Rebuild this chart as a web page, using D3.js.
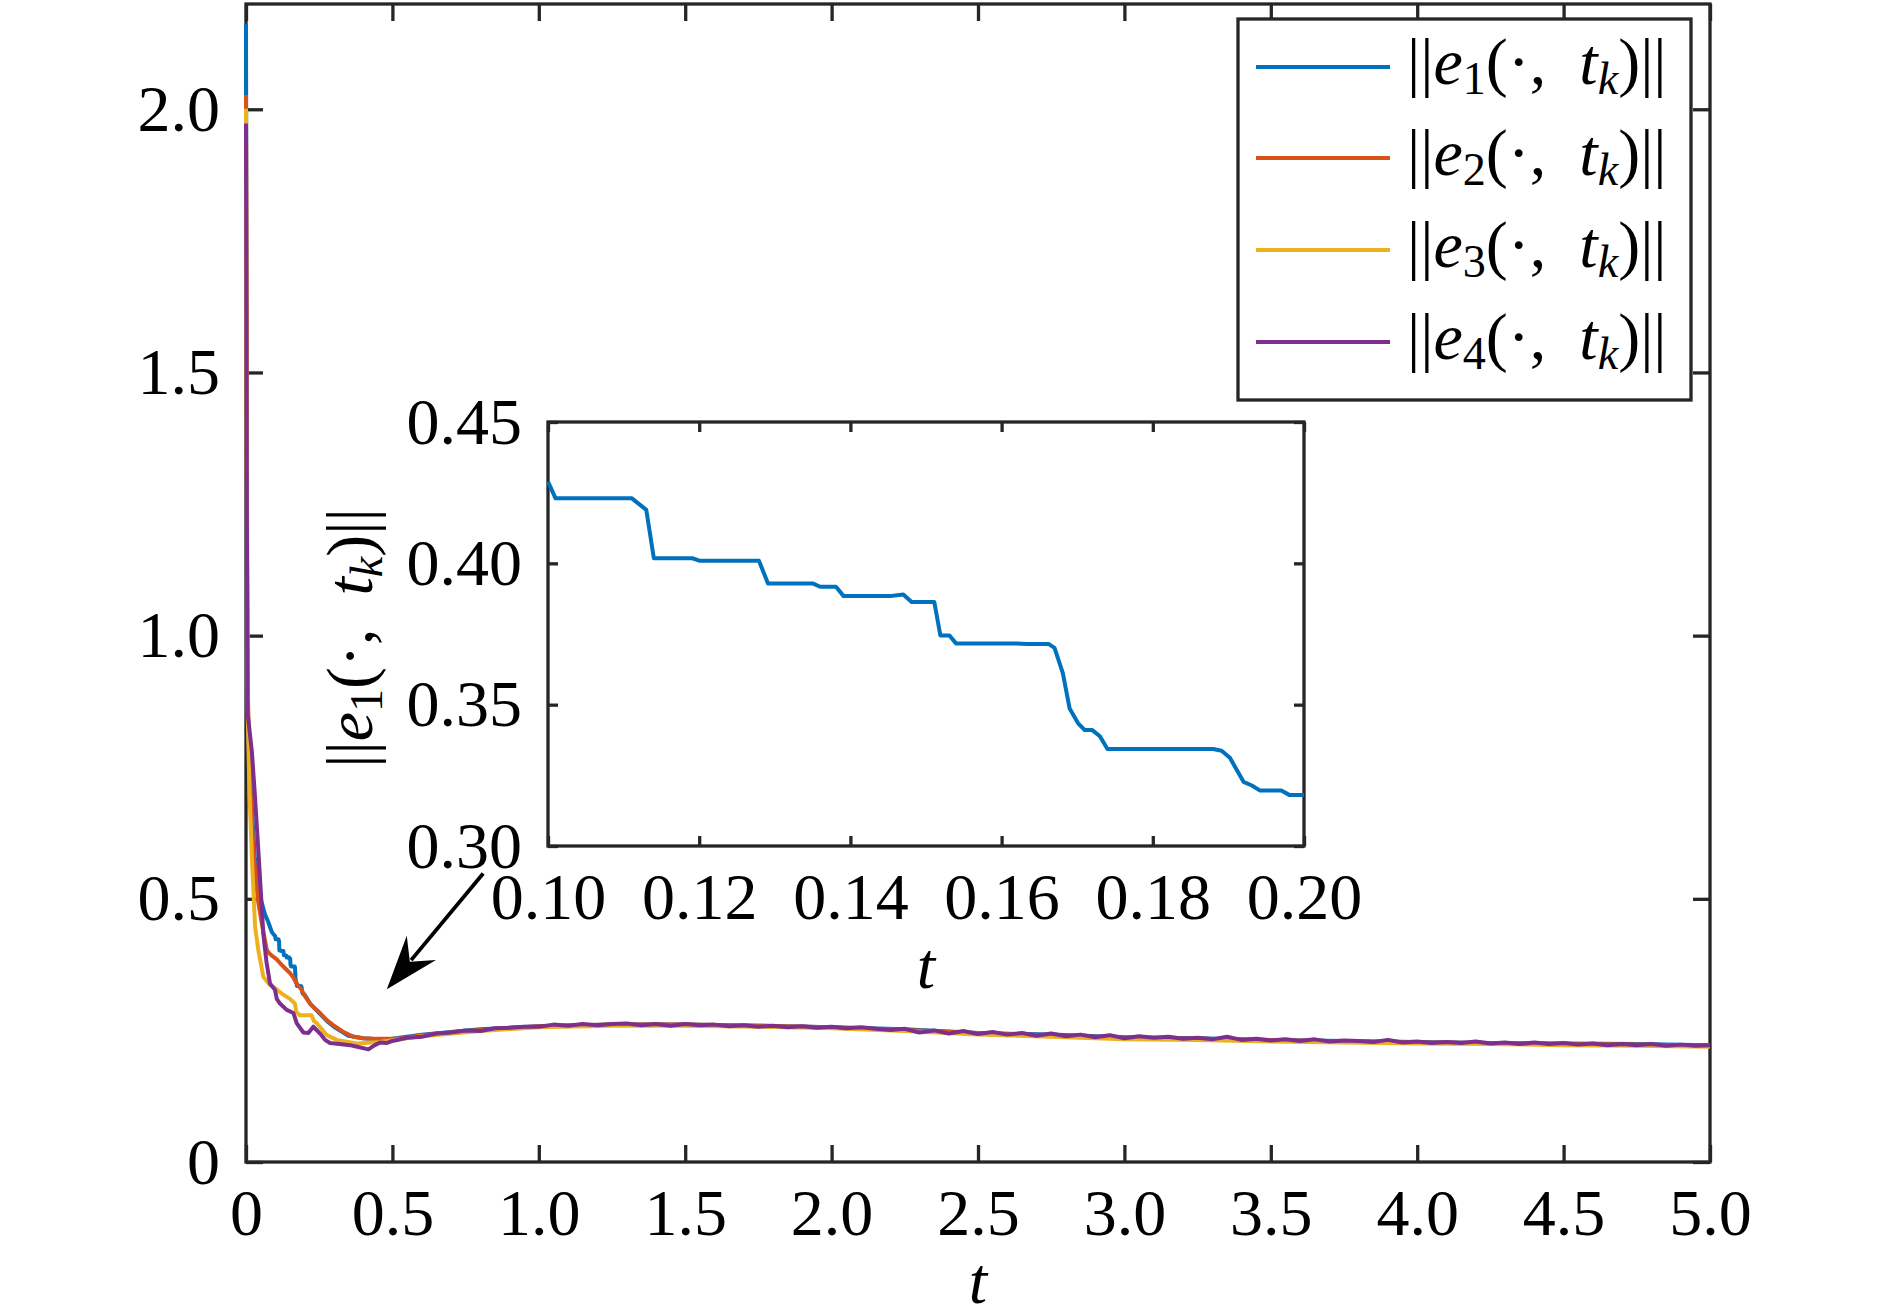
<!DOCTYPE html>
<html>
<head>
<meta charset="utf-8">
<script src="https://cdn.jsdelivr.net/npm/d3@7"></script>
<style>
  body { margin: 0; background: #fff; }
  svg { display: block; }
  text { font-family: "Liberation Serif", "DejaVu Serif", serif; fill: #000; }
</style>
</head>
<body>
<div id="chart-area"></div>
<script>
// ---- data ----
const seriesNames = ["1", "2", "3", "4"];
const seriesColors = ["#0072BD", "#D95319", "#EDB120", "#7E2F8E"];

const xTicks = [0, 0.5, 1.0, 1.5, 2.0, 2.5, 3.0, 3.5, 4.0, 4.5, 5.0];
const yTicks = [0, 0.5, 1.0, 1.5, 2.0];
const insetXTicks = [0.10, 0.12, 0.14, 0.16, 0.18, 0.20];
const insetYTicks = [0.30, 0.35, 0.40, 0.45];

// e1 : [t, value]
const e1Points = [
  [0, 2.163], [0.003, 1.2], [0.006, 0.83], [0.015, 0.72], [0.03, 0.58], [0.05, 0.50],
  [0.065, 0.47], [0.076, 0.456], [0.088, 0.437], [0.095, 0.432],
  [0.100, 0.4289], [0.101, 0.4230], [0.1111, 0.4230], [0.1130, 0.4189], [0.1140, 0.4018],
  [0.1191, 0.4018], [0.1201, 0.4009], [0.1279, 0.4009], [0.1291, 0.3929], [0.1350, 0.3929],
  [0.1360, 0.3917], [0.1381, 0.3917], [0.1391, 0.3884], [0.1452, 0.3884], [0.1470, 0.3890],
  [0.1481, 0.3863], [0.1511, 0.3863], [0.1519, 0.3745], [0.1531, 0.3745], [0.1540, 0.3716],
  [0.1620, 0.3716], [0.1633, 0.3715], [0.1662, 0.3715], [0.1670, 0.3701], [0.1681, 0.3612],
  [0.1690, 0.3486], [0.1701, 0.3435], [0.1710, 0.3410], [0.1720, 0.3410], [0.1730, 0.3388],
  [0.1740, 0.3343], [0.1880, 0.3343], [0.1891, 0.3337], [0.1902, 0.3312], [0.1920, 0.3227],
  [0.1931, 0.3214], [0.1942, 0.3196], [0.1970, 0.3196], [0.1981, 0.3180], [0.2000, 0.3180],
  [0.22, 0.300], [0.25, 0.283], [0.28, 0.266], [0.30, 0.257], [0.35, 0.240], [0.40, 0.235],
  [0.45, 0.233], [0.50, 0.234],
  [0.6, 0.242], [0.8, 0.252], [1.0, 0.258], [1.25, 0.261], [1.5, 0.261], [1.75, 0.259],
  [2.0, 0.256], [2.25, 0.252], [2.5, 0.245], [2.75, 0.242], [3.0, 0.237], [3.25, 0.235],
  [3.5, 0.232], [3.75, 0.230], [4.0, 0.228], [4.25, 0.226], [4.5, 0.225], [4.75, 0.224], [5.0, 0.222]
];

const e2Points = [
  [0, 2.027], [0.003, 1.3], [0.006, 0.9], [0.012, 0.75], [0.025, 0.593], [0.04, 0.50],
  [0.055, 0.45], [0.071, 0.403], [0.08, 0.396], [0.093, 0.390], [0.105, 0.385], [0.116, 0.378],
  [0.13, 0.370], [0.15, 0.359], [0.16, 0.352], [0.173, 0.339], [0.19, 0.327], [0.20, 0.316],
  [0.219, 0.301], [0.235, 0.292], [0.253, 0.283], [0.275, 0.270], [0.298, 0.260], [0.33, 0.248],
  [0.367, 0.238], [0.40, 0.235], [0.435, 0.234], [0.515, 0.234], [0.55, 0.236],
  [0.6, 0.241], [0.8, 0.251], [1.0, 0.258], [1.25, 0.261], [1.5, 0.261], [1.75, 0.259],
  [2.0, 0.256], [2.25, 0.251], [2.5, 0.245], [2.75, 0.241], [3.0, 0.236], [3.25, 0.234],
  [3.5, 0.232], [3.75, 0.229], [4.0, 0.227], [4.25, 0.226], [4.5, 0.224], [4.75, 0.223], [5.0, 0.221]
];

const e3Points = [
  [0, 2.001], [0.003, 1.2], [0.006, 0.85], [0.012, 0.70], [0.02, 0.58], [0.031, 0.447],
  [0.042, 0.403], [0.059, 0.352], [0.082, 0.336], [0.10, 0.330], [0.122, 0.320], [0.15, 0.310],
  [0.167, 0.301], [0.172, 0.285], [0.184, 0.279], [0.224, 0.279], [0.232, 0.268], [0.241, 0.264],
  [0.276, 0.241], [0.31, 0.232], [0.378, 0.225], [0.458, 0.228], [0.549, 0.235],
  [0.6, 0.239], [0.8, 0.249], [1.0, 0.256], [1.25, 0.259], [1.5, 0.259], [1.75, 0.257],
  [2.0, 0.254], [2.25, 0.249], [2.5, 0.242], [2.75, 0.238], [3.0, 0.233], [3.25, 0.232],
  [3.5, 0.229], [3.75, 0.227], [4.0, 0.225], [4.25, 0.224], [4.5, 0.222], [4.75, 0.221], [5.0, 0.219]
];

const e4Points = [
  [0, 1.973], [0.002, 1.5], [0.004, 1.0], [0.006, 0.85], [0.02, 0.78], [0.03, 0.70],
  [0.042, 0.593], [0.05, 0.52], [0.059, 0.434], [0.07, 0.38], [0.082, 0.339], [0.099, 0.327],
  [0.105, 0.310], [0.116, 0.301], [0.139, 0.289], [0.162, 0.283], [0.173, 0.264], [0.196, 0.246],
  [0.213, 0.245], [0.23, 0.257], [0.253, 0.244], [0.27, 0.232], [0.287, 0.226], [0.32, 0.224],
  [0.355, 0.222], [0.38, 0.219], [0.418, 0.214], [0.44, 0.222], [0.458, 0.227], [0.48, 0.226],
  [0.50, 0.230], [0.55, 0.236], [0.60, 0.238], [0.65, 0.244], [0.70, 0.246], [0.75, 0.250],
  [0.80, 0.249], [0.85, 0.254], [0.90, 0.255], [0.95, 0.257], [1.00, 0.257], [1.05, 0.261],
  [1.10, 0.259], [1.15, 0.262], [1.20, 0.260], [1.25, 0.262], [1.30, 0.263], [1.35, 0.260],
  [1.40, 0.262], [1.45, 0.259], [1.50, 0.262], [1.55, 0.260], [1.60, 0.261], [1.65, 0.258],
  [1.70, 0.260], [1.75, 0.257], [1.80, 0.259], [1.85, 0.256], [1.90, 0.258], [1.95, 0.255],
  [2.00, 0.257], [2.05, 0.254], [2.10, 0.256], [2.15, 0.253], [2.20, 0.251], [2.25, 0.253],
  [2.30, 0.246], [2.35, 0.250], [2.40, 0.244], [2.45, 0.249], [2.50, 0.243], [2.55, 0.247],
  [2.60, 0.242], [2.65, 0.245], [2.70, 0.240], [2.75, 0.244], [2.80, 0.239], [2.85, 0.242],
  [2.90, 0.237], [2.95, 0.241], [3.00, 0.235], [3.05, 0.239], [3.10, 0.236], [3.15, 0.238],
  [3.20, 0.234], [3.25, 0.236], [3.30, 0.233], [3.35, 0.238], [3.40, 0.232], [3.45, 0.234],
  [3.50, 0.231], [3.55, 0.233], [3.60, 0.230], [3.65, 0.233], [3.70, 0.229], [3.75, 0.231],
  [3.80, 0.230], [3.85, 0.228], [3.90, 0.232], [3.95, 0.227], [4.00, 0.229], [4.05, 0.226],
  [4.10, 0.228], [4.15, 0.226], [4.20, 0.229], [4.25, 0.225], [4.30, 0.227], [4.35, 0.224],
  [4.40, 0.227], [4.45, 0.224], [4.50, 0.226], [4.55, 0.223], [4.60, 0.225], [4.65, 0.222],
  [4.70, 0.224], [4.75, 0.222], [4.80, 0.224], [4.85, 0.221], [4.90, 0.223], [4.95, 0.221],
  [5.00, 0.222]
];

// arrow pointing at the zoomed region, in main-axis data units [t, value]
const arrowFrom = [0.81, 0.548];
const arrowTo = [0.481, 0.328];

// ---- layout ----
const W = 1890, H = 1316;
const main = { left: 246, right: 1710, top: 4, bottom: 1162 };
const inset = { left: 548, right: 1304, top: 422, bottom: 846 };
const fontSize = 66;
const axisColor = "#262626";
const axisWidth = 3.3;
const dataWidth = 4;

const svg = d3.select("#chart-area").append("svg")
  .attr("width", W).attr("height", H);
svg.append("rect").attr("width", W).attr("height", H).attr("fill", "#fff");

const x = d3.scaleLinear().domain([0, 5]).range([main.left, main.right]);
const y = d3.scaleLinear().domain([0, 2.2]).range([main.bottom, main.top]);

function styleAxis(g) {
  g.select(".domain").remove();
  g.selectAll(".tick line").attr("stroke", axisColor).attr("stroke-width", axisWidth);
  g.selectAll(".tick text").attr("font-size", fontSize).attr("font-family", "Liberation Serif").attr("fill", "#000");
}

// main axes
const fmtMain = d => d === 0 ? "0" : d.toFixed(1);
svg.append("g").attr("transform", `translate(0,${main.bottom})`)
  .call(d3.axisBottom(x).tickValues(xTicks).tickFormat(fmtMain).tickSizeInner(-17).tickSizeOuter(0).tickPadding(26))
  .call(styleAxis);
svg.append("g").attr("transform", `translate(0,${main.top})`)
  .call(d3.axisTop(x).tickValues(xTicks).tickFormat("").tickSizeInner(-17).tickSizeOuter(0))
  .call(styleAxis);
svg.append("g").attr("transform", `translate(${main.left},0)`)
  .call(d3.axisLeft(y).tickValues(yTicks).tickFormat(fmtMain).tickSizeInner(-17).tickSizeOuter(0).tickPadding(26))
  .call(styleAxis);
svg.append("g").attr("transform", `translate(${main.right},0)`)
  .call(d3.axisRight(y).tickValues(yTicks).tickFormat("").tickSizeInner(-17).tickSizeOuter(0))
  .call(styleAxis);
svg.append("rect")
  .attr("x", main.left).attr("y", main.top)
  .attr("width", main.right - main.left).attr("height", main.bottom - main.top)
  .attr("fill", "none").attr("stroke", axisColor).attr("stroke-width", axisWidth);

svg.append("text")
  .attr("x", (main.left + main.right) / 2).attr("y", 1303)
  .attr("text-anchor", "middle").attr("font-size", fontSize).attr("font-style", "italic")
  .text("t");

// main curves
const line = d3.line().x(d => x(d[0])).y(d => y(d[1]));
const allSeries = [e1Points, e2Points, e3Points, e4Points];
svg.append("g").selectAll("path")
  .data(allSeries)
  .join("path")
  .attr("d", line)
  .attr("fill", "none")
  .attr("stroke", (d, i) => seriesColors[i])
  .attr("stroke-width", dataWidth)
  .attr("stroke-linejoin", "round");

// arrow
const ax0 = x(arrowFrom[0]), ay0 = y(arrowFrom[1]);
const ax1 = x(arrowTo[0]), ay1 = y(arrowTo[1]);
const ang = Math.atan2(ay1 - ay0, ax1 - ax0);
const headLen = 48, headHalf = 19;
const bx = ax1 - headLen * Math.cos(ang), by = ay1 - headLen * Math.sin(ang);
svg.append("line")
  .attr("x1", ax0).attr("y1", ay0).attr("x2", bx + 10 * Math.cos(ang)).attr("y2", by + 10 * Math.sin(ang))
  .attr("stroke", "#000").attr("stroke-width", 3.8);
svg.append("path")
  .attr("d", d3.line()([
    [ax1, ay1],
    [bx + headHalf * Math.sin(ang) - 6 * Math.cos(ang), by - headHalf * Math.cos(ang) - 6 * Math.sin(ang)],
    [bx + 12 * Math.cos(ang), by + 12 * Math.sin(ang)],
    [bx - headHalf * Math.sin(ang) - 6 * Math.cos(ang), by + headHalf * Math.cos(ang) - 6 * Math.sin(ang)]
  ]) + "Z")
  .attr("fill", "#000");

// label builder for ||e_i(., t_k)||
function normLabel(sel, sub) {
  sel.append("tspan").text("||");
  sel.append("tspan").attr("font-style", "italic").text("e");
  sel.append("tspan").attr("font-size", fontSize * 0.7).attr("dy", 10).text(sub);
  sel.append("tspan").attr("dy", -10).text("(\u00b7,\u00a0\u00a0");
  sel.append("tspan").attr("font-style", "italic").text("t");
  sel.append("tspan").attr("font-style", "italic").attr("font-size", fontSize * 0.7).attr("dy", 10).text("k");
  sel.append("tspan").attr("dy", -10).text(")||");
}

// inset
const xi = d3.scaleLinear().domain([0.10, 0.20]).range([inset.left, inset.right]);
const yi = d3.scaleLinear().domain([0.30, 0.45]).range([inset.bottom, inset.top]);
svg.append("rect")
  .attr("x", inset.left).attr("y", inset.top)
  .attr("width", inset.right - inset.left).attr("height", inset.bottom - inset.top)
  .attr("fill", "#fff");
const fmtInset = d => d.toFixed(2);
svg.append("g").attr("transform", `translate(0,${inset.bottom})`)
  .call(d3.axisBottom(xi).tickValues(insetXTicks).tickFormat(fmtInset).tickSizeInner(-10).tickSizeOuter(0).tickPadding(26))
  .call(styleAxis);
svg.append("g").attr("transform", `translate(0,${inset.top})`)
  .call(d3.axisTop(xi).tickValues(insetXTicks).tickFormat("").tickSizeInner(-10).tickSizeOuter(0))
  .call(styleAxis);
svg.append("g").attr("transform", `translate(${inset.left},0)`)
  .call(d3.axisLeft(yi).tickValues(insetYTicks).tickFormat(fmtInset).tickSizeInner(-10).tickSizeOuter(0).tickPadding(26))
  .call(styleAxis);
svg.append("g").attr("transform", `translate(${inset.right},0)`)
  .call(d3.axisRight(yi).tickValues(insetYTicks).tickFormat("").tickSizeInner(-10).tickSizeOuter(0))
  .call(styleAxis);
svg.append("rect")
  .attr("x", inset.left).attr("y", inset.top)
  .attr("width", inset.right - inset.left).attr("height", inset.bottom - inset.top)
  .attr("fill", "none").attr("stroke", axisColor).attr("stroke-width", axisWidth);

const lineInset = d3.line().x(d => xi(d[0])).y(d => yi(d[1]));
svg.append("path")
  .datum(e1Points.filter(d => d[0] >= 0.1 && d[0] <= 0.2))
  .attr("d", lineInset)
  .attr("fill", "none").attr("stroke", seriesColors[0]).attr("stroke-width", dataWidth)
  .attr("stroke-linejoin", "round");

svg.append("text")
  .attr("x", (inset.left + inset.right) / 2).attr("y", 988)
  .attr("text-anchor", "middle").attr("font-size", fontSize).attr("font-style", "italic")
  .text("t");
svg.append("text")
  .attr("transform", `translate(372,${(inset.top + inset.bottom) / 2 + 4}) rotate(-90)`)
  .attr("text-anchor", "middle").attr("font-size", fontSize)
  .call(normLabel, "1");

// legend
const legend = { left: 1238, right: 1691, top: 19, bottom: 400 };
const rowY = [67, 158, 250, 342];
svg.append("rect")
  .attr("x", legend.left).attr("y", legend.top)
  .attr("width", legend.right - legend.left).attr("height", legend.bottom - legend.top)
  .attr("fill", "#fff").attr("stroke", axisColor).attr("stroke-width", axisWidth);
const rows = svg.append("g").selectAll("g")
  .data(seriesNames)
  .join("g")
  .attr("transform", (d, i) => `translate(0,${rowY[i]})`);
rows.append("line")
  .attr("x1", 1256).attr("x2", 1390)
  .attr("stroke", (d, i) => seriesColors[i]).attr("stroke-width", dataWidth);
rows.append("text")
  .attr("x", 1407).attr("y", 17)
  .attr("font-size", fontSize)
  .each(function (d) { d3.select(this).call(normLabel, d); });
</script>
</body>
</html>
